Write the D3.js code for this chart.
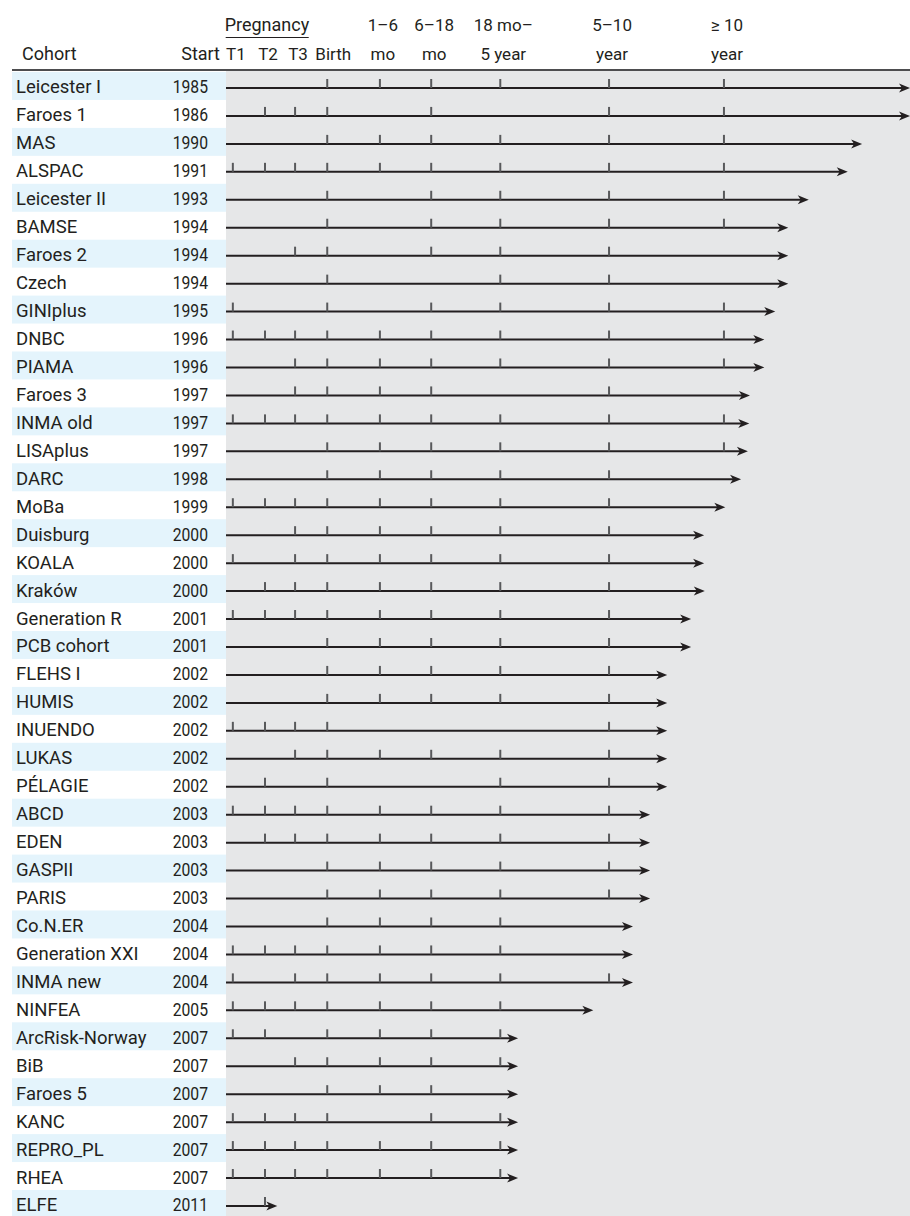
<!DOCTYPE html>
<html>
<head>
<meta charset="utf-8">
<script src="https://cdn.jsdelivr.net/npm/d3@7"></script>
<style>
  body { margin: 0; background: #fff; }
  text { font-family: Roboto, "Liberation Sans", sans-serif; fill: #231f20; }
</style>
</head>
<body>
<div id="chart"></div>
<script>
// cohort names, start year
var cohorts = ["Leicester I", "Faroes 1", "MAS", "ALSPAC", "Leicester II", "BAMSE", "Faroes 2", "Czech",
  "GINIplus", "DNBC", "PIAMA", "Faroes 3", "INMA old", "LISAplus", "DARC", "MoBa", "Duisburg", "KOALA",
  "Kraków", "Generation R", "PCB cohort", "FLEHS I", "HUMIS", "INUENDO", "LUKAS", "PÉLAGIE", "ABCD",
  "EDEN", "GASPII", "PARIS", "Co.N.ER", "Generation XXI", "INMA new", "NINFEA", "ArcRisk-Norway", "BiB",
  "Faroes 5", "KANC", "REPRO_PL", "RHEA", "ELFE"];
var startYears = [1985, 1986, 1990, 1991, 1993, 1994, 1994, 1994, 1995, 1996, 1996, 1997, 1997, 1997, 1998,
  1999, 2000, 2000, 2000, 2001, 2001, 2002, 2002, 2002, 2002, 2002, 2003, 2003, 2003, 2003, 2004, 2004,
  2004, 2005, 2007, 2007, 2007, 2007, 2007, 2007, 2011];

// follow-up stages and where they sit on the timeline (0-100)
var stageKeys = ["T1", "T2", "T3", "B", "M1", "M2", "Y5", "Y10", "Y10p"];
var stageTop = ["", "", "", "", "1–6", "6–18", "18 mo–", "5–10", "≥ 10"];
var stageBottom = ["T1", "T2", "T3", "Birth", "mo", "mo", "5 year", "year", "year"];
var stagePos = [1.0, 5.7, 10.1, 14.8, 22.5, 30.0, 40.1, 56.0, 72.8];

// length of each arrow on the same timeline
var followUp = [100, 100, 93.0, 90.9, 85.2, 82.2, 82.2, 82.2, 80.3, 78.7, 78.7, 76.6, 76.5, 76.3, 75.3,
  73.0, 69.9, 69.9, 70.0, 68.0, 68.0, 64.5, 64.5, 64.5, 64.5, 64.5, 62.0, 62.0, 62.0, 62.0, 59.5, 59.5,
  59.5, 53.7, 42.7, 42.7, 42.7, 42.7, 42.7, 42.7, 7.5];

// stages with data collection per cohort
var samples = [
  ["B","M1","M2","Y5","Y10","Y10p"],
  ["T2","T3","B","M2","Y10","Y10p"],
  ["B","M1","M2","Y5","Y10","Y10p"],
  ["T1","T2","T3","B","M1","M2","Y5","Y10","Y10p"],
  ["B","M2","Y5","Y10","Y10p"],
  ["B","M2","Y5","Y10","Y10p"],
  ["T3","B","M2","Y5","Y10"],
  ["B","Y5","Y10"],
  ["T1","B","M2","Y5","Y10","Y10p"],
  ["T1","T2","T3","B","M1","M2","Y5","Y10","Y10p"],
  ["T3","B","M1","M2","Y5","Y10","Y10p"],
  ["T3","B","M1","M2","Y10"],
  ["T1","T2","T3","B","M1","M2","Y5","Y10","Y10p"],
  ["B","M1","M2","Y5","Y10","Y10p"],
  ["B","M1","M2","Y5","Y10"],
  ["T1","T2","T3","B","M1","M2","Y5","Y10"],
  ["T3","B","M1","M2","Y5","Y10"],
  ["T1","T3","B","M1","M2","Y5","Y10"],
  ["T2","T3","B","M1","M2","Y5","Y10"],
  ["T1","T2","T3","B","M1","M2","Y5","Y10"],
  ["B","M1","M2","Y5","Y10"],
  ["B","M1","M2","Y5","Y10"],
  ["B","M1","M2","Y5","Y10"],
  ["T1","T2","T3","B","Y10"],
  ["T3","B","M1","M2","Y5","Y10"],
  ["T2","B","Y5","Y10"],
  ["T1","T2","T3","B","M1","M2","Y5","Y10"],
  ["T2","T3","B","M1","M2","Y5","Y10"],
  ["B","M1","M2","Y5","Y10"],
  ["B","M1","M2","Y5","Y10"],
  ["B","M1","M2","Y5"],
  ["T1","T2","T3","B","M1","M2","Y5"],
  ["T1","T3","B","M1","M2","Y5","Y10"],
  ["T1","T2","T3","B","M1","M2","Y5"],
  ["T1","T2","B","M1","M2","Y5"],
  ["T3","B","M1","M2","Y5"],
  ["B","M1","M2"],
  ["T1","T2","T3","B","M2","Y5"],
  ["T1","T2","T3","B","M1","M2","Y5"],
  ["T1","T2","T3","B","M1","M2","Y5"],
  ["T2"]
];

var width = 910, height = 1216;
var tableLeft = 12, plotLeft = 226, headerY = 70;
var rowH = 27.95;

var svg = d3.select("#chart").append("svg")
    .attr("width", width)
    .attr("height", height);

var x = d3.scaleLinear().domain([0, 100]).range([plotLeft, width]);
var y = d3.scaleBand()
    .domain(d3.range(cohorts.length))
    .range([headerY + 2, headerY + 2 + rowH * cohorts.length]);
var posOf = {};
stageKeys.forEach(function(k, i) { posOf[k] = stagePos[i]; });

// grey panel
svg.append("rect")
    .attr("x", plotLeft).attr("y", headerY)
    .attr("width", width - plotLeft).attr("height", height - headerY)
    .attr("fill", "#e6e7e8");

// alternating blue bands behind the table
svg.selectAll(".band")
  .data(d3.range(cohorts.length).filter(function(i) { return i % 2 === 0; }))
  .enter().append("rect")
    .attr("x", tableLeft)
    .attr("y", function(i) { return y(i); })
    .attr("width", plotLeft - tableLeft)
    .attr("height", y.bandwidth())
    .attr("fill", "#e4f4fc");

// header rule
svg.append("line")
    .attr("x1", tableLeft).attr("x2", width)
    .attr("y1", headerY).attr("y2", headerY)
    .attr("stroke", "#4d4d4f").attr("stroke-width", 2);

// header text
var head = svg.append("g").style("font-size", "17px");
head.append("text").attr("x", 22).attr("y", 60).style("font-size", "18px").text("Cohort");
head.append("text").attr("x", 220).attr("y", 60).attr("text-anchor", "end").style("font-size", "18px").text("Start");
var nudge = function(i) { return i === 3 ? 6 : 3; };
head.selectAll(".top")
  .data(stageKeys)
  .enter().append("text")
    .attr("x", function(d, i) { return x(stagePos[i]) + nudge(i); })
    .attr("y", 31)
    .attr("text-anchor", "middle")
    .text(function(d, i) { return stageTop[i]; });
head.selectAll(".bottom")
  .data(stageKeys)
  .enter().append("text")
    .attr("x", function(d, i) { return x(stagePos[i]) + nudge(i); })
    .attr("y", 60)
    .attr("text-anchor", "middle")
    .text(function(d, i) { return stageBottom[i]; });

var preg = head.append("text")
    .attr("x", (x(stagePos[0]) + x(stagePos[2])) / 2 + 3)
    .attr("y", 31)
    .attr("text-anchor", "middle")
    .style("font-size", "18px")
    .text("Pregnancy");
var pb = preg.node().getBBox();
head.append("line")
    .attr("x1", pb.x + 1).attr("x2", pb.x + pb.width - 1)
    .attr("y1", 37.5).attr("y2", 37.5)
    .attr("stroke", "#231f20").attr("stroke-width", 1.2);

// rows
var rows = svg.selectAll(".row")
  .data(cohorts)
  .enter().append("g")
    .attr("class", "row")
    .attr("transform", function(d, i) { return "translate(0," + (y(i) + y.bandwidth() / 2) + ")"; });

rows.append("text")
    .attr("x", 16).attr("y", 7.5)
    .style("font-size", "18.5px")
    .text(function(d) { return d; });
rows.append("text")
    .attr("transform", "translate(208,7.5) scale(0.85,1)")
    .attr("text-anchor", "end")
    .style("font-size", "18.5px")
    .text(function(d, i) { return startYears[i]; });

// timeline line + arrow head
rows.append("line")
    .attr("x1", plotLeft)
    .attr("x2", function(d, i) { return x(followUp[i]) - 6; })
    .attr("y1", 2).attr("y2", 2)
    .attr("stroke", "#231f20").attr("stroke-width", 2);
rows.append("path")
    .attr("d", function(d, i) {
      var t = x(followUp[i]);
      return "M" + t + ",2L" + (t - 11) + ",-2.5L" + (t - 8) + ",2L" + (t - 11) + ",6.5Z";
    })
    .attr("fill", "#231f20");

// sample collection ticks
rows.selectAll(".tick")
  .data(function(d, i) { return samples[i]; })
  .enter().append("line")
    .attr("x1", function(k) { return x(posOf[k]); })
    .attr("x2", function(k) { return x(posOf[k]); })
    .attr("y1", -7).attr("y2", 2)
    .attr("stroke", "#58595b").attr("stroke-width", 2);
</script>
</body>
</html>
